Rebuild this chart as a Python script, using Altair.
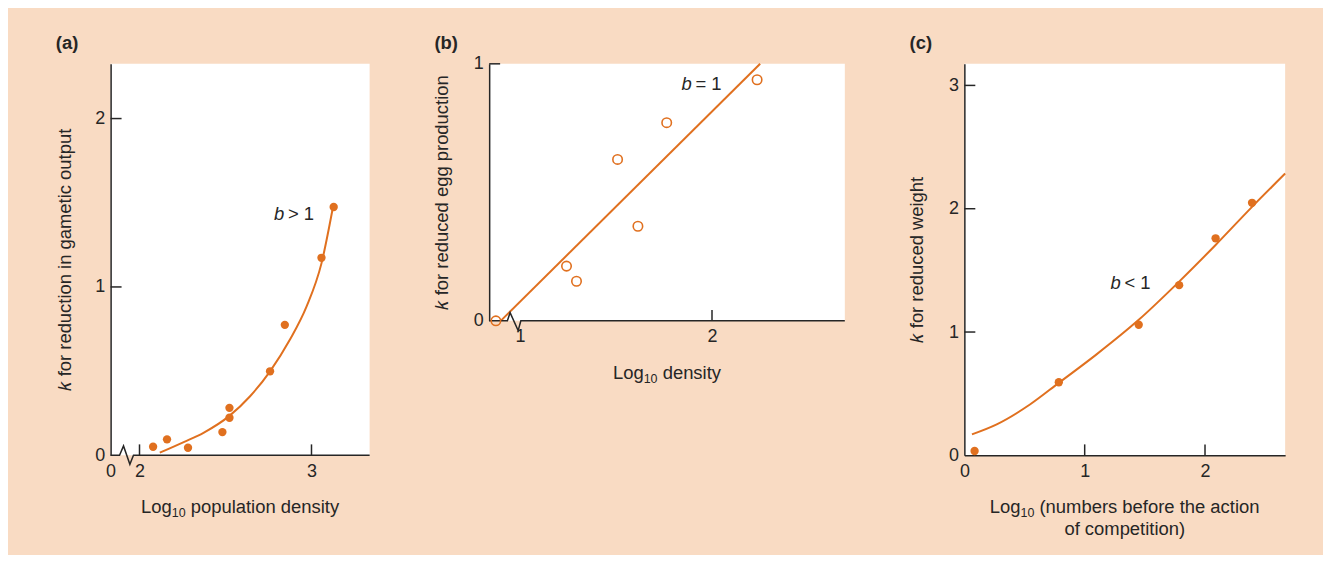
import altair as alt
import pandas as pd

BG = "#F9DBC3"
ORANGE = "#E0701F"
INK = "#262626"
FONT = "Liberation Sans"
FS = 18.5      # title / annotation font size
LFS = 18       # tick label font size
SFS = 12.5     # subscript font size

# ---------------- panel (a) ----------------
a_px = [2.079, 2.160, 2.282, 2.482, 2.523, 2.523, 2.759, 2.845, 3.058, 3.129]
a_py = [0.051, 0.095, 0.045, 0.138, 0.223, 0.282, 0.499, 0.775, 1.173, 1.475]
a_cx = [2.118, 2.257, 2.372, 2.521, 2.643, 2.759, 2.874, 2.971, 3.058, 3.125]
a_cy = [0.016, 0.079, 0.134, 0.233, 0.351, 0.499, 0.686, 0.883, 1.140, 1.475]
a_xdom = [1.832, 3.338]
a_ydom = [0, 2.325]
a_xlab = [1.832, 2, 3]          # first label shown as "0" (broken axis)
a_ylab = [0, 1, 2]
a_xtick = [2, 3]
a_ytick = [1, 2]
a_brk_x = [1.832, 1.884, 1.907, 1.944, 1.965, 3.338]
a_brk_y = [0, 0, 0.056, -0.053, 0, 0]

# ---------------- panel (b) ----------------
b_px = [0.874, 1.242, 1.294, 1.508, 1.614, 1.764, 2.235]
b_py = [0.0, 0.213, 0.154, 0.628, 0.368, 0.771, 0.938]
b_cx = [0.899, 2.251]
b_cy = [0.0, 1.0]
b_xdom = [0.839, 2.692]
b_ydom = [0, 1]
b_xlab = [1, 2]
b_ylab = [0, 1]
b_xtick = [2]
b_ytick = [1]
b_brk_x = [0.839, 0.934, 0.948, 0.990, 1.004, 2.692]
b_brk_y = [0, 0, 0.032, -0.038, 0, 0]

# ---------------- panel (c) ----------------
c_px = [0.085, 0.785, 1.449, 1.785, 2.088, 2.391]
c_py = [0.035, 0.593, 1.059, 1.380, 1.760, 2.048]
c_cx = [0.063, 0.269, 0.545, 0.785, 1.096, 1.449, 1.785, 2.088, 2.391, 2.666]
c_cy = [0.170, 0.251, 0.412, 0.588, 0.817, 1.099, 1.409, 1.706, 2.015, 2.285]
c_xdom = [0, 2.666]
c_ydom = [0, 3.175]
c_xlab = [0, 1, 2]
c_ylab = [0, 1, 2, 3]
c_xtick = [1, 2]
c_ytick = [1, 2, 3]

K = "\U0001D458"  # italic k
a_xtitle = ["Log", "10", " population density"]
b_xtitle = ["Log", "10", " density"]
c_xtitle = ["Log", "10", " (numbers before the action"]
c_xtitle2 = "of competition)"
a_ytitle = K + " for reduction in gametic output"
b_ytitle = K + " for reduced egg production"
c_ytitle = K + " for reduced weight"

# Arial / Liberation Sans advance widths (per 1000 em), used to centre the composed titles
ADV = {' ': 278, '(': 333, ')': 333, 'L': 556, 'o': 556, 'g': 556, 'p': 556, 'u': 556,
       'l': 222, 'a': 556, 't': 278, 'i': 222, 'n': 556, 'd': 556, 'e': 556, 's': 500,
       'y': 500, 'm': 833, 'b': 556, 'r': 333, 'f': 278, 'h': 556, 'c': 500, '1': 556, '0': 556}


def tw(s, size):
    return sum(ADV.get(ch, 556) for ch in s) * size / 1000.0


def panel(label, w, h, xdom, ydom, px, py, filled, cx, cy, xlab, ylab, xtick, ytick,
          brk_x, brk_y, xtitle, ytitle, ytx, ann_xy, ann_rest, xtitle2=None,
          label_expr="format(datum.value, 'd')"):
    xs = alt.Scale(domain=xdom, nice=False, zero=False)
    ys = alt.Scale(domain=ydom, nice=False, zero=False)

    xaxis = alt.Axis(values=xlab, domain=brk_x is None, ticks=False, grid=False,
                     labelPadding=7, labelFlush=False, labelOverlap=False,
                     labelExpr=label_expr, title=None)
    yaxis = alt.Axis(values=ylab, format="d", domain=True, ticks=False, grid=False,
                     labelPadding=6, labelFlush=False, labelOverlap=False,
                     title=ytitle, titleX=ytx, titleY=h / 2, titleAngle=270,
                     titleAlign="center", titleBaseline="middle")
    X = alt.X("x:Q", scale=xs, axis=xaxis)
    Y = alt.Y("y:Q", scale=ys, axis=yaxis)

    pts = pd.DataFrame({"x": px, "y": py})
    if filled:
        pmark = alt.Chart(pts).mark_circle(size=70, color=ORANGE, opacity=1, clip=False)
    else:
        pmark = alt.Chart(pts).mark_point(shape="circle", size=90, filled=False,
                                          color=ORANGE, strokeWidth=1.6, opacity=1, clip=False)
    points = pmark.encode(x=X, y=Y)

    curve = alt.Chart(pd.DataFrame({"x": cx, "y": cy, "o": list(range(len(cx)))})).mark_line(
        color=ORANGE, strokeWidth=2, interpolate="monotone", clip=False
    ).encode(x=X, y=Y, order="o:Q")

    ytk = alt.Chart(pd.DataFrame({"y": ytick})).mark_rule(color=INK, strokeWidth=1.5).encode(
        y=Y, x=alt.value(0), x2=alt.value(11))
    xtk = alt.Chart(pd.DataFrame({"x": xtick})).mark_rule(color=INK, strokeWidth=1.5).encode(
        x=X, y=alt.value(h), y2=alt.value(h - 11))

    layers = [curve, ytk, xtk]
    if brk_x is not None:
        brk = alt.Chart(pd.DataFrame({"x": brk_x, "y": brk_y, "o": list(range(len(brk_x)))})).mark_line(
            color=INK, strokeWidth=1.5, clip=False, strokeJoin="miter"
        ).encode(x=X, y=Y, order="o:Q")
        layers.append(brk)
    layers += [points]

    ann_df = pd.DataFrame({"x": [ann_xy[0]], "y": [ann_xy[1]], "b": ["b"], "r": [ann_rest]})
    ann_b = alt.Chart(ann_df).mark_text(align="left", baseline="alphabetic", fontStyle="italic",
                                        font=FONT, fontSize=FS, color=INK).encode(
        x=X, y=Y, text="b:N")
    ann_r = alt.Chart(ann_df).mark_text(align="left", baseline="alphabetic", dx=14,
                                        font=FONT, fontSize=FS, color=INK).encode(
        x=X, y=Y, text="r:N")
    lab = alt.Chart(pd.DataFrame({"t": [label]})).mark_text(
        align="left", baseline="alphabetic", font=FONT, fontSize=FS, fontWeight="bold", color=INK
    ).encode(text="t:N", x=alt.value(-55), y=alt.value(-15))
    layers += [ann_b, ann_r, lab]

    # composed x-axis title: "Log" + subscript "10" + rest
    pre, sub, rest = xtitle
    total = tw(pre, FS) + tw(sub, SFS) + tw(rest, FS)
    x0 = w / 2 - total / 2
    ty = h + 58
    lead = len(rest) - len(rest.lstrip())
    parts = [(pre, FS, x0, ty), (sub, SFS, x0 + tw(pre, FS), ty + 4),
             (rest.lstrip(), FS, x0 + tw(pre, FS) + tw(sub, SFS) + tw(" " * lead, FS), ty)]
    for txt, size, xx, yy in parts:
        layers.append(
            alt.Chart(pd.DataFrame({"t": [txt]})).mark_text(
                align="left", baseline="alphabetic", font=FONT, fontSize=size, color=INK
            ).encode(text="t:N", x=alt.value(xx), y=alt.value(yy))
        )
    if xtitle2:
        layers.append(
            alt.Chart(pd.DataFrame({"t": [xtitle2]})).mark_text(
                align="center", baseline="alphabetic", font=FONT, fontSize=FS, color=INK
            ).encode(text="t:N", x=alt.value(w / 2), y=alt.value(ty + 22))
        )
    return alt.layer(*layers).properties(width=w, height=h)


pa = panel("(a)", 260, 393, a_xdom, a_ydom, a_px, a_py, True, a_cx, a_cy,
           a_xlab, a_ylab, a_xtick, a_ytick, a_brk_x, a_brk_y,
           a_xtitle, a_ytitle, -46, (2.782, 1.396), "> 1",
           label_expr="datum.value < 1.9 ? '0' : format(datum.value, 'd')")
pb = panel("(b)", 357, 258, b_xdom, b_ydom, b_px, b_py, False, b_cx, b_cy,
           b_xlab, b_ylab, b_xtick, b_ytick, b_brk_x, b_brk_y,
           b_xtitle, b_ytitle, -47.5, (1.841, 0.899), "= 1")
pc = panel("(c)", 322, 393, c_xdom, c_ydom, c_px, c_py, True, c_cx, c_cy,
           c_xlab, c_ylab, c_xtick, c_ytick, None, None,
           c_xtitle, c_ytitle, -48, (1.215, 1.348), "< 1", xtitle2=c_xtitle2)

chart = alt.hconcat(pa, pb, pc, spacing=120, bounds="flush").configure(
    background=BG,
    padding={"left": 47, "top": 25, "right": 34, "bottom": 15},
).configure_view(fill="white", stroke=None).configure_axis(
    domainColor=INK, domainWidth=1.5,
    labelFont=FONT, labelFontSize=LFS, labelColor=INK,
    titleFont=FONT, titleFontSize=FS, titleFontWeight="normal", titleColor=INK,
)

chart.save("out.html", embed_options={"renderer": "svg", "actions": False})
